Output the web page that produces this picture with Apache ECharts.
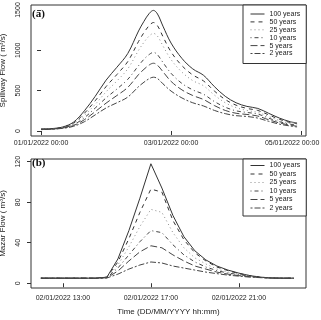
<!DOCTYPE html>
<html>
<head>
<meta charset="utf-8">
<script src="https://cdn.jsdelivr.net/npm/echarts@6/dist/echarts.min.js"></script>
<style>
  html, body { margin: 0; padding: 0; background: #fff; }
  #chart { width: 321px; height: 320px; }
</style>
</head>
<body>
<div id="chart"></div>
<script>
// names of the return periods
var periods = ["100 years", "50 years", "25 years", "10 years", "5 years", "2 years"];

// (a) spillway flow, hours from 01/01/2022 00:00
var spillHours = [0, 4, 8, 12, 16, 20, 24, 28, 32, 36, 38, 40, 41.5, 43, 45, 48, 52, 56, 60, 64, 68, 72, 76, 80, 84, 88, 92, 94.5];
var spill100 = [25, 30, 50, 110, 250, 430, 630, 790, 960, 1240, 1360, 1460, 1495, 1450, 1300, 1090, 900, 770, 690, 550, 430, 350, 305, 280, 220, 160, 115, 100];
var spill50 = [23, 28, 46, 98, 220, 375, 550, 700, 860, 1110, 1220, 1310, 1345, 1305, 1170, 980, 810, 695, 620, 495, 390, 320, 280, 255, 200, 145, 105, 90];
var spill25 = [22, 27, 43, 88, 195, 330, 485, 620, 770, 1000, 1100, 1180, 1210, 1175, 1055, 885, 730, 625, 560, 445, 350, 290, 255, 230, 180, 130, 95, 80];
var spill10 = [20, 25, 40, 78, 165, 285, 410, 520, 640, 810, 890, 950, 975, 945, 850, 715, 590, 510, 455, 365, 295, 250, 230, 210, 160, 115, 85, 70];
var spill5 = [19, 24, 37, 68, 140, 240, 345, 440, 540, 700, 765, 820, 840, 815, 735, 615, 510, 440, 390, 315, 255, 220, 205, 185, 140, 100, 72, 60];
var spill2 = [17, 22, 33, 58, 115, 200, 285, 350, 420, 550, 605, 650, 667, 650, 585, 495, 410, 350, 310, 255, 215, 190, 180, 160, 120, 85, 62, 50];

// (b) Mazar flow, hour of day on 02/01/2022
var mazarHours = [12, 12.5, 13, 13.5, 14, 14.5, 15, 15.5, 16, 16.5, 17, 17.5, 18, 18.5, 19, 19.5, 20, 20.5, 21, 21.5, 22, 22.5, 23, 23.5];
var mazar100 = [5, 5, 5, 5, 5, 5, 6, 24, 52, 84, 118, 94, 67, 46, 32, 23, 17, 13, 10, 7.5, 6, 5.2, 5, 5];
var mazar50 = [5, 5, 5, 5, 5, 5, 6, 21, 44, 70, 93, 90, 62, 43, 30, 22, 16, 12.5, 9.5, 7.5, 5.9, 5.2, 5, 5];
var mazar25 = [5, 5, 5, 5, 5, 5, 5.8, 18, 36, 56, 73, 70, 50, 35, 25, 19, 14, 11, 9, 7, 5.8, 5.2, 5, 5];
var mazar10 = [5, 5, 5, 5, 5, 5, 5.6, 15, 28, 41, 52, 50, 38, 28, 21, 16, 12.5, 10, 8.5, 7, 5.7, 5.1, 5, 5];
var mazar5 = [5, 5, 5, 5, 5, 5, 5.4, 12, 22, 31, 37, 35, 28, 22, 17, 14, 11, 9, 7.5, 6.5, 5.6, 5.1, 5, 5];
var mazar2 = [5, 5, 5, 5, 5, 5, 5.2, 9, 14, 18, 21, 20, 17, 15, 13, 11, 9.5, 8, 7, 6, 5.5, 5.1, 5, 5];

// tick positions and labels
var spillTicks = [0, 48, 96];
var spillTickLabels = ["01/01/2022 00:00", "03/01/2022 00:00", "05/01/2022 00:00"];
var mazarTicks = [13, 17, 21];
var mazarTickLabels = ["02/01/2022 13:00", "02/01/2022 17:00", "02/01/2022 21:00"];
var spillYTicks = [0, 500, 1000, 1500];
var mazarYTicks = [0, 40, 80, 120];

var spillSeries = [spill100, spill50, spill25, spill10, spill5, spill2];
var mazarSeries = [mazar100, mazar50, mazar25, mazar10, mazar5, mazar2];

// R lty 1..6
var dashes = ["solid", [4, 4], [1, 3], [1, 3, 4, 3], [7, 3], [2, 2, 6, 2]];
var colors = ["#333", "#333", "#8c8c8c", "#444", "#444", "#444"];

var font = "Liberation Sans";
var ink = "#222";

function pairs(xs, ys) {
    return xs.map(function (x, i) { return [x, ys[i]]; });
}

function makeSeries(idx, xs, list) {
    return list.map(function (ys, k) {
        return {
            name: periods[k],
            type: "line",
            xAxisIndex: idx,
            yAxisIndex: idx,
            symbol: "none",
            smooth: idx === 0 ? 0.35 : false,
            lineStyle: { color: colors[k], width: 1, type: dashes[k] },
            itemStyle: { color: colors[k] },
            data: pairs(xs, ys)
        };
    });
}

function xAxisOf(idx, min, max, ticks, labels, margin, name) {
    return {
        type: "value",
        gridIndex: idx,
        min: min,
        max: max,
        axisLine: { show: false },
        splitLine: { show: false },
        axisTick: { show: true, customValues: ticks, length: 4, lineStyle: { color: "#333" } },
        axisLabel: {
            customValues: ticks,
            margin: margin,
            fontFamily: font,
            fontSize: 7,
            color: ink,
            // the last top label sits a little left of its tick, as in the source
            formatter: function (v) {
                var i = ticks.indexOf(v);
                if (idx === 0 && i === ticks.length - 1) return "{r|" + labels[i] + "}";
                return labels[i];
            },
            rich: { r: { fontFamily: font, fontSize: 7, color: ink, padding: [0, 18, 0, 0] } }
        },
        name: name,
        nameLocation: "middle",
        nameGap: 20,
        nameTextStyle: { fontFamily: font, fontSize: 8, color: ink }
    };
}

function yAxisOf(idx, min, max, ticks, name) {
    return {
        type: "value",
        gridIndex: idx,
        min: min,
        max: max,
        axisLine: { show: false },
        splitLine: { show: false },
        axisTick: { show: true, customValues: ticks, length: 4, lineStyle: { color: "#333" } },
        axisLabel: {
            customValues: ticks,
            rotate: 90,
            margin: 9.5,
            fontFamily: font,
            fontSize: 7,
            color: ink,
            formatter: function (v) { return String(v); }
        },
        name: name,
        nameLocation: "middle",
        nameRotate: 90,
        nameGap: 21,
        nameTextStyle: { fontFamily: font, fontSize: 8, color: ink }
    };
}

function legendOf(top, padding, gap) {
    return {
        data: periods,
        orient: "vertical",
        left: 243,
        top: top,
        padding: padding,
        itemGap: gap,
        itemWidth: 14,
        itemHeight: 7,
        borderColor: "#333",
        borderWidth: 1,
        borderRadius: 0,
        backgroundColor: "#fff",
        itemStyle: { color: "transparent", borderWidth: 0, opacity: 0 },
        lineStyle: { width: 1 },
        textStyle: { fontFamily: font, fontSize: 7, color: ink, lineHeight: 7 }
    };
}

function gridOf(top, height) {
    return {
        left: 31, top: top, width: 275, height: height,
        outerBoundsMode: "none",
        containLabel: false,
        show: true, borderColor: "#333", borderWidth: 1, backgroundColor: "transparent"
    };
}

var option = {
    animation: false,
    backgroundColor: "#fff",
    grid: [gridOf(5, 131), gridOf(159, 129)],
    xAxis: [
        xAxisOf(0, -3.7, 97.8, spillTicks, spillTickLabels, 4, ""),
        xAxisOf(1, 11.55, 24.05, mazarTicks, mazarTickLabels, 7, "Time (DD/MM/YYYY hh:mm)")
    ],
    yAxis: [
        yAxisOf(0, -62, 1562, spillYTicks, "Spillway Flow ( m³/s)"),
        yAxisOf(1, -4.7, 122.7, mazarYTicks, "Mazar Flow ( m³/s)")
    ],
    legend: [
        legendOf(5, [5.5, 6, 6.5, 7], 0.9),
        legendOf(159, [3, 6, 4.5, 7], 1.5)
    ],
    graphic: [
        { type: "text", x: 32, y: 14, style: { text: "(a)", font: "bold 11px 'Liberation Serif'", fill: "#111", verticalAlign: "middle" } },
        { type: "text", x: 32, y: 163, style: { text: "(b)", font: "bold 11px 'Liberation Serif'", fill: "#111", verticalAlign: "middle" } }
    ],
    series: makeSeries(0, spillHours, spillSeries).concat(makeSeries(1, mazarHours, mazarSeries))
};

var chart = echarts.init(document.getElementById("chart"));
chart.setOption(option);
window.addEventListener("resize", function () { chart.resize(); });
</script>
</body>
</html>
